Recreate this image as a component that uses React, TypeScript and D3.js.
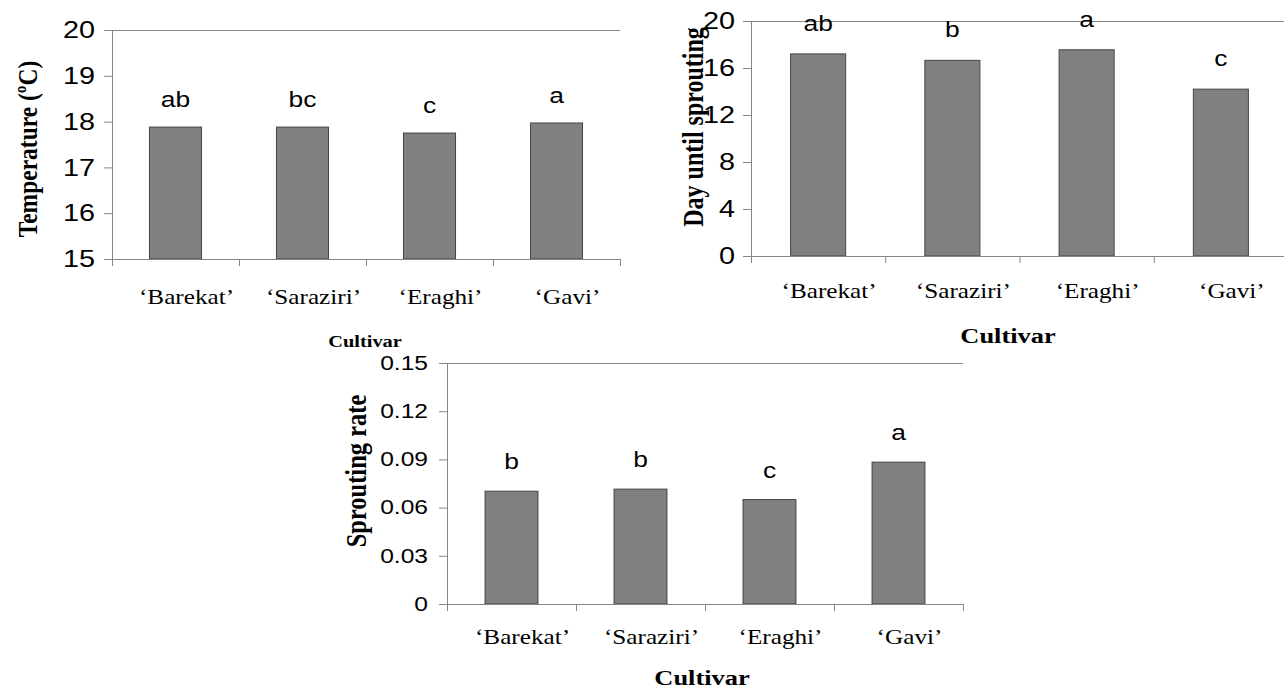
import React from "react";
import * as d3 from "d3";

const categories = ["‘Barekat’", "‘Saraziri’", "‘Eraghi’", "‘Gavi’"];

const temperature = [17.88, 17.88, 17.75, 17.97];
const temperatureLetters = ["ab", "bc", "c", "a"];
const temperatureTicks = [15, 16, 17, 18, 19, 20];

const daysUntilSprouting = [17.2, 16.65, 17.55, 14.2];
const daysLetters = ["ab", "b", "a", "c"];
const daysTicks = [0, 4, 8, 12, 16, 20];

const sproutingRate = [0.0702, 0.0715, 0.065, 0.0883];
const rateLetters = ["b", "b", "c", "a"];
const rateTicks = [0, 0.03, 0.06, 0.09, 0.12, 0.15];

const SX = 1.2; // horizontal stretch of the original picture
const SANS = "'Liberation Sans', Arial, sans-serif";
const SERIF = "'Liberation Serif', 'Times New Roman', serif";
const AXIS = "#858585";

type PanelCfg = {
  values: number[];
  letters: string[];
  ticks: number[];
  domain: [number, number];
  fmt: (d: number) => string;
  left: number; right: number; top: number; bottom: number;
  tickFont: number; labelGap: number; letterOffset: number;
  catBaseline: number;
  yTitle: string; yTitleX: number; yTitleY: number; yTitleSize: number;
  xTitleX: number; xTitleY: number; xTitleSize: number;
};

function SText(props: {
  x: number; y: number; anchor?: string; size: number; family: string;
  weight?: string; rotate?: boolean; baseline?: string; children: React.ReactNode;
}) {
  const { x, y, anchor = "middle", size, family, weight = "normal", rotate, baseline, children } = props;
  return (
    <text
      transform={`translate(${x},${y}) scale(${SX},1)${rotate ? " rotate(-90)" : ""}`}
      textAnchor={anchor}
      fontSize={size}
      fontFamily={family}
      fontWeight={weight}
      dominantBaseline={baseline as any}
      fill="#000"
    >
      {children}
    </text>
  );
}

function Panel({ c }: { c: PanelCfg }) {
  const x = d3.scaleBand<string>().domain(categories).range([c.left, c.right]).padding(0);
  const y = d3.scaleLinear().domain(c.domain).range([c.bottom, c.top]);
  const bw = x.bandwidth();
  const barW = bw * 0.41;
  const boundaries = categories.map((cat) => x(cat) as number).concat([c.right]);
  return (
    <g>
      {/* top border */}
      <line x1={c.left} x2={c.right} y1={c.top + 0.5} y2={c.top + 0.5} stroke={AXIS} strokeWidth={1} />
      {/* bars */}
      {categories.map((cat, i) => {
        const cx = (x(cat) as number) + bw / 2;
        return (
          <rect
            key={cat}
            x={cx - barW / 2}
            y={y(c.values[i])}
            width={barW}
            height={y(c.domain[0]) - y(c.values[i])}
            fill="#808080"
            stroke="#444"
            strokeWidth={1}
          />
        );
      })}
      {/* y axis */}
      <line x1={c.left + 0.5} x2={c.left + 0.5} y1={c.top} y2={c.bottom + 7} stroke={AXIS} strokeWidth={1} />
      {c.ticks.map((t) => (
        <g key={t}>
          <line x1={c.left - 8} x2={c.left} y1={y(t) + 0.5} y2={y(t) + 0.5} stroke={AXIS} strokeWidth={1} />
          <SText x={c.left - c.labelGap} y={y(t)} anchor="end" size={c.tickFont} family={SANS} baseline="central">
            {c.fmt(t)}
          </SText>
        </g>
      ))}
      {/* x axis */}
      <line x1={c.left - 8} x2={c.right} y1={c.bottom + 0.5} y2={c.bottom + 0.5} stroke={AXIS} strokeWidth={1} />
      {boundaries.map((bx, i) => (
        <line key={i} x1={bx + 0.5} x2={bx + 0.5} y1={c.bottom} y2={c.bottom + 7} stroke={AXIS} strokeWidth={1} />
      ))}
      {categories.map((cat) => (
        <SText key={cat} x={(x(cat) as number) + bw / 2 + 11} y={c.catBaseline} size={21} family={SERIF}>
          {cat}
        </SText>
      ))}
      {/* significance letters */}
      {categories.map((cat, i) => (
        <SText key={cat + "l"} x={(x(cat) as number) + bw / 2} y={y(c.values[i]) - c.letterOffset} size={22} family={SANS}>
          {c.letters[i]}
        </SText>
      ))}
      {/* titles */}
      <SText x={c.yTitleX} y={c.yTitleY} size={c.yTitleSize} family={SERIF} weight="bold" rotate baseline="central">
        {c.yTitle}
      </SText>
      <SText x={c.xTitleX} y={c.xTitleY} size={c.xTitleSize} family={SERIF} weight="bold">
        Cultivar
      </SText>
    </g>
  );
}

const intFmt = d3.format("d");
const rateFmt = (d: number) => (d === 0 ? "0" : d3.format(".2f")(d));

export default function App() {
  const panels: PanelCfg[] = [
    {
      values: temperature, letters: temperatureLetters, ticks: temperatureTicks, domain: [15, 20], fmt: intFmt,
      left: 112, right: 620, top: 30, bottom: 259, tickFont: 24, labelGap: 17, letterOffset: 20,
      catBaseline: 304, yTitle: "Temperature (ºC)", yTitleX: 28, yTitleY: 149, yTitleSize: 23.5,
      xTitleX: 365, xTitleY: 347, xTitleSize: 17,
    },
    {
      values: daysUntilSprouting, letters: daysLetters, ticks: daysTicks, domain: [0, 20], fmt: intFmt,
      left: 751, right: 1288, top: 21, bottom: 256, tickFont: 24, labelGap: 16, letterOffset: 23,
      catBaseline: 298, yTitle: "Day until sprouting", yTitleX: 693, yTitleY: 127, yTitleSize: 24,
      xTitleX: 1008, xTitleY: 343, xTitleSize: 22,
    },
    {
      values: sproutingRate, letters: rateLetters, ticks: rateTicks, domain: [0, 0.15], fmt: rateFmt,
      left: 447, right: 963, top: 363, bottom: 604, tickFont: 20.5, labelGap: 19, letterOffset: 22,
      catBaseline: 644, yTitle: "Sprouting rate", yTitleX: 356, yTitleY: 471, yTitleSize: 24.5,
      xTitleX: 702, xTitleY: 685, xTitleSize: 22,
    },
  ];
  return (
    <svg width={1284} height={690} style={{ position: "absolute", left: 0, top: 0, background: "#fff" }}>
      <rect width={1284} height={690} fill="#fff" />
      {panels.map((p, i) => (
        <Panel key={i} c={p} />
      ))}
    </svg>
  );
}
